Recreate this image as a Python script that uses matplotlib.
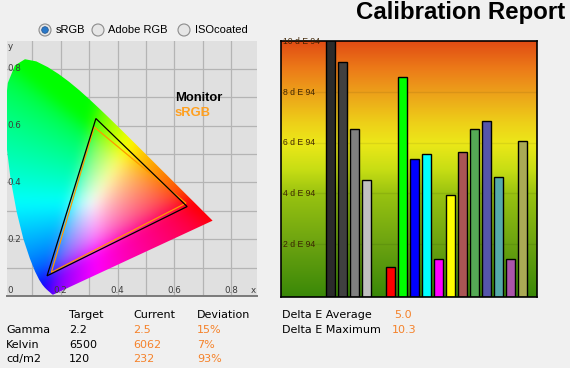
import numpy as np
import matplotlib
matplotlib.use("Agg")
import matplotlib.pyplot as plt
import matplotlib.transforms as mtransforms
from matplotlib.patches import Polygon, Circle
from matplotlib.colors import LinearSegmentedColormap

plt.rcParams['font.family'] = ['DejaVu Sans']

# CIE 1931 spectral locus (380..700 nm)
LOCUS_X = [0.1741, 0.1740, 0.1738, 0.1736, 0.1733, 0.1730, 0.1726, 0.1721, 0.1714, 0.1703,
           0.1689, 0.1669, 0.1644, 0.1611, 0.1566, 0.1510, 0.1440, 0.1355, 0.1241, 0.1096,
           0.0913, 0.0687, 0.0454, 0.0235, 0.0082, 0.0039, 0.0139, 0.0389, 0.0743, 0.1142,
           0.1547, 0.1929, 0.2296, 0.2658, 0.3016, 0.3373, 0.3731, 0.4087, 0.4441, 0.4788,
           0.5125, 0.5448, 0.5752, 0.6029, 0.6270, 0.6482, 0.6658, 0.6801, 0.6915, 0.7006,
           0.7079, 0.7140, 0.7190, 0.7230, 0.7260, 0.7283, 0.7300, 0.7311, 0.7320, 0.7334,
           0.7344, 0.7347]
LOCUS_Y = [0.0050, 0.0050, 0.0049, 0.0049, 0.0048, 0.0048, 0.0048, 0.0048, 0.0051, 0.0058,
           0.0069, 0.0086, 0.0109, 0.0138, 0.0177, 0.0227, 0.0297, 0.0399, 0.0578, 0.0868,
           0.1327, 0.2007, 0.2950, 0.4127, 0.5384, 0.6548, 0.7502, 0.8120, 0.8338, 0.8262,
           0.8059, 0.7816, 0.7543, 0.7243, 0.6923, 0.6589, 0.6245, 0.5896, 0.5547, 0.5202,
           0.4866, 0.4544, 0.4242, 0.3965, 0.3725, 0.3514, 0.3340, 0.3197, 0.3083, 0.2993,
           0.2920, 0.2859, 0.2809, 0.2770, 0.2740, 0.2717, 0.2700, 0.2689, 0.2680, 0.2666,
           0.2656, 0.2653]

# gamut triangles (R, G, B primaries)
MONITOR_X = [0.645, 0.324, 0.152]
MONITOR_Y = [0.315, 0.625, 0.071]
SRGB_X = [0.641, 0.318, 0.167]
SRGB_Y = [0.327, 0.595, 0.083]

# delta E per patch
PATCH_POS = [0, 1, 2, 3, 5, 6, 7, 8, 9, 10, 11, 12, 13, 14, 15, 16]
DELTA_E = [10.3, 9.2, 6.55, 4.53, 1.1, 8.6, 5.36, 5.56, 1.41, 3.94, 5.64, 6.55, 6.87, 4.65, 1.41, 6.07]
PATCH_COLORS = ['#2b2b2b', '#404040', '#808080', '#c0c0c0', '#ff0000', '#00ff00', '#0000ff',
                '#00ffff', '#ff00ff', '#ffff00', '#aa5555', '#55aa55', '#5555aa', '#55aaaa',
                '#aa55aa', '#aaaa55']
DE_TICKS = [2, 4, 6, 8, 10]

RADIO = ["sRGB", "Adobe RGB", "ISOcoated"]
TABLE_HEAD = ["Target", "Current", "Deviation"]
TABLE_ROWS = ["Gamma", "Kelvin", "cd/m2"]
TABLE_TARGET = ["2.2", "6500", "120"]
TABLE_CURRENT = ["2.5", "6062", "232"]
TABLE_DEV = ["15%", "7%", "93%"]
DE_LABELS = ["Delta E Average", "Delta E Maximum"]
DE_VALUES = ["5.0", "10.3"]

ORANGE = '#f5822a'
BG = '#f0f0f0'

W, H = 570, 368
fig = plt.figure(figsize=(W / 100, H / 100), dpi=100)
fig.patch.set_facecolor(BG)


def px_axes(l, t, r, b):
    return fig.add_axes([l / W, 1 - b / H, (r - l) / W, (b - t) / H])


def blur(a, s):
    k = np.exp(-0.5 * (np.arange(-3 * s, 3 * s + 1) / s) ** 2)
    k /= k.sum()
    p = 3 * s
    a = np.pad(a, ((p, p), (p, p), (0, 0)), mode='edge')
    a = np.apply_along_axis(lambda v: np.convolve(v, k, mode='same'), 0, a)
    a = np.apply_along_axis(lambda v: np.convolve(v, k, mode='same'), 1, a)
    return a[p:-p, p:-p]


# ---------- chromaticity diagram ----------
ax = px_axes(6.7, 41, 257, 296)
ax.set_facecolor('#e0e0e0')
ax.set_xlim(0.01, 0.891)
ax.set_ylim(0, 0.898)
ax.set_xticks(np.arange(0.1, 0.85, 0.1))
ax.set_yticks(np.arange(0.1, 0.85, 0.1))
ax.grid(True, color='#b4b4b4', lw=0.9)
ax.set_axisbelow(True)
ax.tick_params(length=0, labelbottom=False, labelleft=False)
for s in ['top', 'right', 'left']:
    ax.spines[s].set_visible(False)
ax.spines['bottom'].set_color('#7a7a7a')
ax.spines['bottom'].set_linewidth(1.4)

g = np.linspace(0, 0.9, 300)
gx, gy = np.meshgrid(g, g)
yy = np.clip(gy, 1e-3, None)
xyz = np.stack([gx / yy, np.ones_like(gx), (1 - gx - gy) / yy], -1)
M = np.array([[3.2406, -1.5372, -0.4986],
              [-0.9689, 1.8758, 0.0415],
              [0.0557, -0.2040, 1.0570]])
rgb = np.clip(xyz @ M.T, 0, None)
rgb = rgb / (rgb.max(axis=-1, keepdims=True) + 1e-9)
rgb = np.where(rgb <= 0.0031308, 12.92 * rgb, 1.055 * rgb ** (1 / 2.4) - 0.055)
rgb = np.clip(blur(rgb, 7), 0, 1)
im = ax.imshow(rgb, origin='lower', extent=(0, 0.9, 0, 0.9), aspect='auto',
               interpolation='bilinear', zorder=1)
locus = Polygon(np.column_stack([LOCUS_X, LOCUS_Y]), closed=True, transform=ax.transData,
                fc='none', ec='none')
ax.add_patch(locus)
im.set_clip_path(locus)

ax.add_patch(Polygon(np.column_stack([SRGB_X, SRGB_Y]), closed=True, fill=False,
                     ec='#ff9900', lw=0.9, zorder=3))
ax.add_patch(Polygon(np.column_stack([MONITOR_X, MONITOR_Y]), closed=True, fill=False,
                     ec='black', lw=0.9, zorder=4))

tick_c = '#3c3c3c'
tfs = 6.3
bx = mtransforms.blended_transform_factory(ax.transData, ax.transAxes)
by = mtransforms.blended_transform_factory(ax.transAxes, ax.transData)
for v in [0.2, 0.4, 0.6, 0.8]:
    ax.text(v, 0.022, f"{v:.1f}", transform=bx, ha='center', va='center', fontsize=tfs, color=tick_c, zorder=5)
    ax.text(0.003, v, f"{v:.1f}", transform=by, ha='left', va='center', fontsize=tfs, color=tick_c, zorder=5)
ax.text(0.003, 0.022, "0", transform=ax.transAxes, ha='left', va='center', fontsize=tfs, color=tick_c)
ax.text(0.995, 0.022, "x", transform=ax.transAxes, ha='right', va='center', fontsize=tfs, color=tick_c)
ax.text(0.006, 0.98, "y", transform=ax.transAxes, ha='left', va='center', fontsize=tfs, color=tick_c)

# ---------- delta E bars ----------
bx2 = px_axes(281, 41, 537, 297)
YMIN = -0.095
bx2.set_xlim(-4.15, 17.18)
bx2.set_ylim(YMIN, 10.03)
stops = [(0.0, '#3a8808'), (0.2, '#6aa210'), (0.4, '#98c210'), (0.5, '#c8de14'),
         (0.6, '#ece818'), (0.68, '#eed018'), (0.8, '#eca01a'), (0.9, '#ec7818'),
         (1.0, '#e04c14')]
cmap = LinearSegmentedColormap.from_list('de', stops)
bx2.imshow(np.linspace(0, 1, 256)[:, None], cmap=cmap, origin='lower', aspect='auto',
           extent=(-4.15, 17.18, YMIN, 10.03), zorder=0)
for t in DE_TICKS[:-1]:
    bx2.axhline(t, color='black', alpha=0.08, lw=1, zorder=1)
bx2.bar(PATCH_POS, np.array(DELTA_E) - YMIN, bottom=YMIN, width=0.75, color=PATCH_COLORS,
        edgecolor='black', linewidth=1, zorder=2)
tb = mtransforms.blended_transform_factory(bx2.transAxes, bx2.transData)
for t in DE_TICKS:
    bx2.text(0.008, t, f"{t} d E 94", transform=tb, ha='left', va='center', fontsize=6.2,
             family='Liberation Sans', color='#3a2000', alpha=0.95, zorder=3)
bx2.set_xticks([])
bx2.set_yticks([])
for s in bx2.spines.values():
    s.set_linewidth(1.2)

# ---------- overlay text ----------
ov = fig.add_axes([0, 0, 1, 1], zorder=10)
ov.set_xlim(0, W)
ov.set_ylim(H, 0)
ov.axis('off')
ov.patch.set_alpha(0)

ov.text(565, 12, "Calibration Report", ha='right', va='center', fontsize=17.3,
        fontweight='bold', family='Liberation Sans', color='black')

radio_x = [45, 98, 184]
for i, (rx, lab) in enumerate(zip(radio_x, RADIO)):
    ov.add_patch(Circle((rx, 30), 6, fc='#e6e6e6', ec='#8c8c8c', lw=0.8))
    if i == 0:
        ov.add_patch(Circle((rx, 30), 3.3, fc='#2a78c8', ec='#1a4f8a', lw=0.5))
    ov.text(rx + 10.5, 30, lab, ha='left', va='center', fontsize=8, family='Liberation Sans',
            color='black')

ov.text(175, 97.7, "Monitor", ha='left', va='center', fontsize=9.4, fontweight='bold',
        family='Liberation Sans', color='black')
ov.text(175, 113.3, "sRGB", ha='left', va='center', fontsize=9.4, fontweight='bold',
        family='Liberation Sans', color='#ffa020')

cols = [69.3, 133.3, 197.3]
for c, h in zip(cols, TABLE_HEAD):
    ov.text(c, 315, h, ha='left', va='center', fontsize=8)
for i, row in enumerate(TABLE_ROWS):
    y = 329.7 + i * 14.8
    ov.text(6, y, row, ha='left', va='center', fontsize=8)
    ov.text(cols[0], y, TABLE_TARGET[i], ha='left', va='center', fontsize=8)
    ov.text(cols[1], y, TABLE_CURRENT[i], ha='left', va='center', fontsize=8, color=ORANGE)
    ov.text(cols[2], y, TABLE_DEV[i], ha='left', va='center', fontsize=8, color=ORANGE)

for i, (lab, val) in enumerate(zip(DE_LABELS, DE_VALUES)):
    y = 315 + i * 14.7
    ov.text(281.7, y, lab, ha='left', va='center', fontsize=8)
    ov.text(394 - 2.3 * i, y, val, ha='left', va='center', fontsize=8, color=ORANGE)

fig.savefig("out.png", dpi=100, facecolor=BG)
